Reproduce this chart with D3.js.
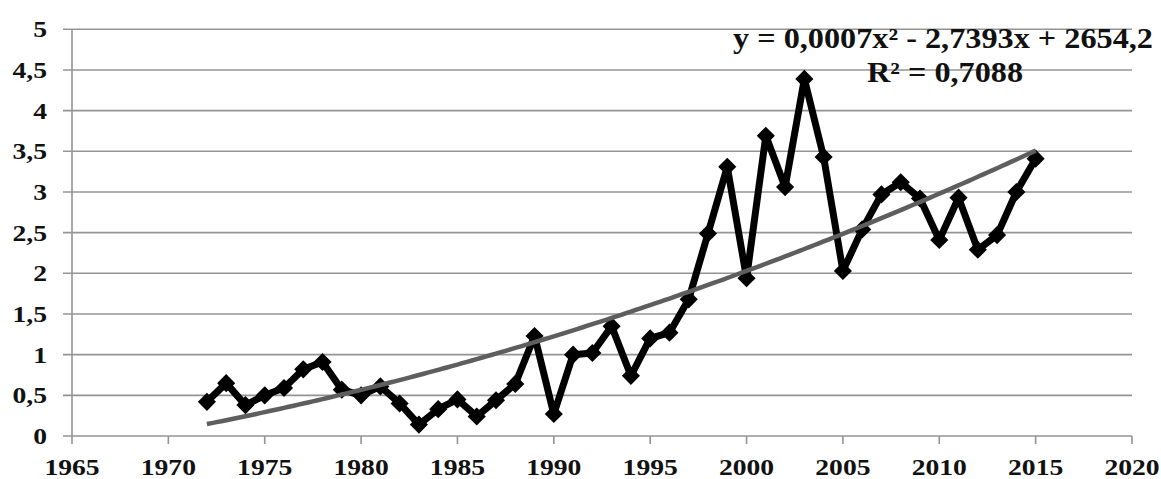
<!DOCTYPE html>
<html><head><meta charset="utf-8">
<script src="https://cdn.jsdelivr.net/npm/d3@7"></script>
<style>
html,body{margin:0;padding:0;background:#fff;}
svg{display:block;}
text{font-family:"Liberation Serif","Times New Roman",serif;font-weight:bold;fill:#111;}
</style></head><body>
<svg id="c" width="1161" height="479"></svg>
<script>
const years = [1972,1973,1974,1975,1976,1977,1978,1979,1980,1981,1982,1983,1984,1985,1986,1987,1988,1989,1990,1991,1992,1993,1994,1995,1996,1997,1998,1999,2000,2001,2002,2003,2004,2005,2006,2007,2008,2009,2010,2011,2012,2013,2014,2015];
const values = [0.42,0.65,0.38,0.50,0.59,0.82,0.91,0.57,0.50,0.61,0.40,0.14,0.33,0.45,0.24,0.44,0.64,1.23,0.27,1.00,1.02,1.35,0.74,1.20,1.27,1.68,2.49,3.31,1.94,3.69,3.06,4.39,3.43,2.03,2.54,2.97,3.12,2.92,2.41,2.93,2.29,2.47,3.00,3.41];
const xTicks = [1965,1970,1975,1980,1985,1990,1995,2000,2005,2010,2015,2020];
const yTicks = [0,0.5,1,1.5,2,2.5,3,3.5,4,4.5,5];
const equationText = "y = 0,0007x² - 2,7393x + 2654,2";
const r2Text = "R² = 0,7088";

const svg = d3.select("#c");
const L=72, R=1132, T=29.3, B=436;
const x = d3.scaleLinear().domain([1965,2020]).range([L,R]);
const y = d3.scaleLinear().domain([0,5]).range([B,T]);
const fmt = v => String(v).replace(".", ",");
const stretch = 1.2;

// gridlines
svg.append("g").selectAll("line").data(yTicks).join("line")
  .attr("x1",L-9).attr("x2",R).attr("y1",d=>y(d)).attr("y2",d=>y(d))
  .attr("stroke","#949494").attr("stroke-width",1.6);
// y axis line
svg.append("line").attr("x1",L).attr("x2",L).attr("y1",T).attr("y2",B)
  .attr("stroke","#949494").attr("stroke-width",1.6);
// x ticks
svg.append("g").selectAll("line").data(xTicks).join("line")
  .attr("x1",d=>x(d)).attr("x2",d=>x(d)).attr("y1",B).attr("y2",B+8)
  .attr("stroke","#949494").attr("stroke-width",1.6);

function stretchText(sel, factor){
  sel.each(function(){
    const w = this.getComputedTextLength();
    d3.select(this).attr("textLength", w*factor).attr("lengthAdjust","spacingAndGlyphs");
  });
}
// y labels
const yl = svg.append("g").selectAll("text").data(yTicks).join("text")
  .attr("x",47).attr("y",d=>y(d)+8).attr("text-anchor","end")
  .attr("font-size",23).text(fmt);
stretchText(yl, stretch);
// x labels
const xl = svg.append("g").selectAll("text").data(xTicks).join("text")
  .attr("x",d=>x(d)).attr("y",474.5).attr("text-anchor","middle")
  .attr("font-size",23).text(d=>d);
stretchText(xl, stretch);

// quadratic least-squares trend from the data
const n = years.length;
const mx = d3.mean(years);
let S=[0,0,0,0,0], Sy=[0,0,0];
years.forEach((yr,i)=>{const t=yr-mx; let p=1; for(let k=0;k<5;k++){S[k]+=p; if(k<3) Sy[k]+=p*values[i]; p*=t;}});
function solve3(A,b){
  const M=A.map((r,i)=>r.concat([b[i]]));
  for(let i=0;i<3;i++){let mxr=i;for(let r=i+1;r<3;r++) if(Math.abs(M[r][i])>Math.abs(M[mxr][i])) mxr=r;
    [M[i],M[mxr]]=[M[mxr],M[i]];
    for(let r=0;r<3;r++){ if(r===i) continue; const f=M[r][i]/M[i][i]; for(let c=i;c<4;c++) M[r][c]-=f*M[i][c]; }}
  return M.map((r,i)=>r[3]/r[i]);
}
const coef = solve3([[S[0],S[1],S[2]],[S[1],S[2],S[3]],[S[2],S[3],S[4]]], Sy);
const trend = d3.range(years[0], years[n-1]+0.001, 0.25).map(yr=>{const t=yr-mx; return [yr, coef[0]+coef[1]*t+coef[2]*t*t];});

// data line
svg.append("path").datum(years.map((yr,i)=>[yr,values[i]]))
  .attr("fill","none").attr("stroke","#000").attr("stroke-width",7).attr("stroke-linejoin","round")
  .attr("d", d3.line().x(d=>x(d[0])).y(d=>y(d[1])));
// markers
svg.append("g").selectAll("path").data(years.map((yr,i)=>[yr,values[i]])).join("path")
  .attr("d", d3.symbol().type(d3.symbolDiamond2).size(210))
  .attr("transform", d=>`translate(${x(d[0])},${y(d[1])})`)
  .attr("fill","#000");
// trend line
svg.append("path").datum(trend)
  .attr("fill","none").attr("stroke","#5e5e5e").attr("stroke-width",4.5).attr("stroke-linecap","butt")
  .attr("d", d3.line().x(d=>x(d[0])).y(d=>y(d[1])));

// equation labels
const eq = svg.append("text").attr("x",943).attr("y",48).attr("text-anchor","middle")
  .attr("font-size",29).text(equationText);
eq.attr("textLength",420).attr("lengthAdjust","spacingAndGlyphs");
const r2 = svg.append("text").attr("x",945).attr("y",82).attr("text-anchor","middle")
  .attr("font-size",29).text(r2Text);
r2.attr("textLength",156).attr("lengthAdjust","spacingAndGlyphs");
</script>
</body></html>
